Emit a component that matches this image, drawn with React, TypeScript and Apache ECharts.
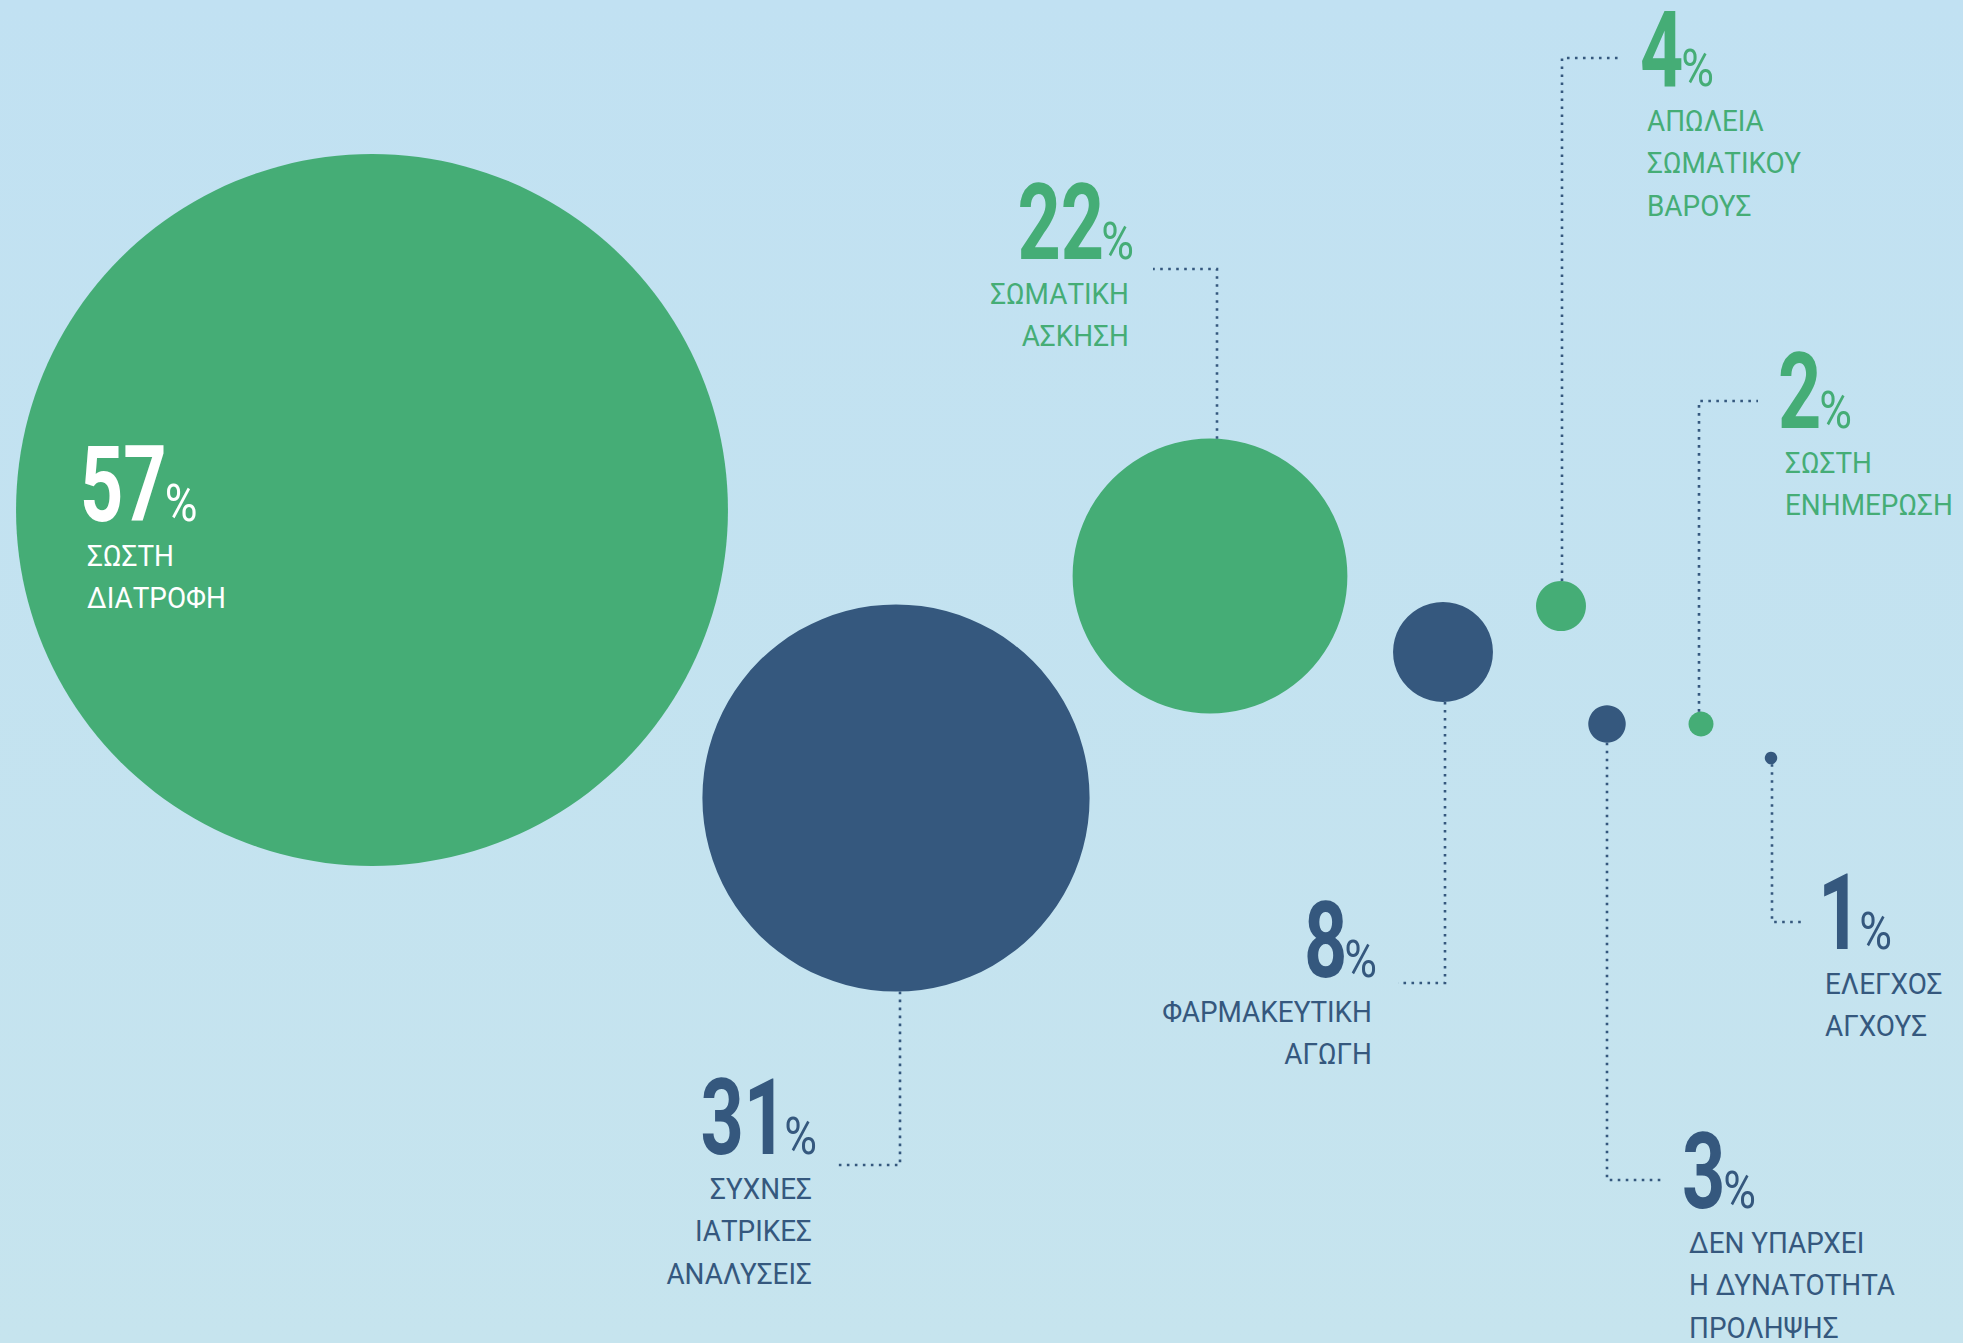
import React, { useEffect, useRef } from "react";
import * as echarts from "echarts";

// ---- data ----
const VALUES = [57, 31, 22, 8, 4, 3, 2, 1];
const GROUPS = ["green", "navy", "green", "navy", "green", "navy", "green", "navy"];
const CAPTIONS = [
  ["ΣΩΣΤΗ", "ΔΙΑΤΡΟΦΗ"],
  ["ΣΥΧΝΕΣ", "ΙΑΤΡΙΚΕΣ", "ΑΝΑΛΥΣΕΙΣ"],
  ["ΣΩΜΑΤΙΚΗ", "ΑΣΚΗΣΗ"],
  ["ΦΑΡΜΑΚΕΥΤΙΚΗ", "ΑΓΩΓΗ"],
  ["ΑΠΩΛΕΙΑ", "ΣΩΜΑΤΙΚΟΥ", "ΒΑΡΟΥΣ"],
  ["ΔΕΝ ΥΠΑΡΧΕΙ", "Η ΔΥΝΑΤΟΤΗΤΑ", "ΠΡΟΛΗΨΗΣ"],
  ["ΣΩΣΤΗ", "ΕΝΗΜΕΡΩΣΗ"],
  ["ΕΛΕΓΧΟΣ", "ΑΓΧΟΥΣ"],
];

// ---- layout (axis units = canvas pixels) ----
const CENTER_X = [372, 896, 1210, 1443, 1561, 1607, 1701, 1771];
const CENTER_Y = [510, 798, 576, 652, 606, 724, 724, 758];
const LABEL_SIDE = ["left", "right", "right", "right", "left", "left", "left", "left"];
const LABEL_X = [87, 812, 1129, 1372, 1647, 1689, 1785, 1825];
const NUMBER_BASELINE = [522, 1155, 260, 978, 87, 1209, 429, 950];
const LEADERS: (number[] | null)[] = [
  null,
  [900, 1165, 836],
  [1217, 269, 1153],
  [1445, 983, 1398],
  [1562, 58, 1621],
  [1607, 1180, 1665],
  [1699, 401, 1758],
  [1772, 922, 1805],
];

// ---- styles ----
const GREEN = "#45AD76";
const NAVY = "#35587E";
const DIAM_PER_PCT = 12.49;
const NUM_SIZE = 105;
const PCT_SIZE = 52;
const CAP_SIZE = 30;
const NUM_SX = 0.72;
const PCT_SX = 0.86;
const CAP_SX = 0.93;
const CAP_RATIO = 0.711;
const FONT = "Roboto";

const ctx = document.createElement("canvas").getContext("2d") as CanvasRenderingContext2D;
function measure(text: string, font: string) {
  ctx.font = font;
  return ctx.measureText(text).width;
}

export default function App() {
  const ref = useRef<HTMLDivElement>(null);
  useEffect(() => {
    if (!ref.current) return;
    const chart = echarts.init(ref.current, null, { renderer: "svg" });
    const data = VALUES.map((v, i) => [CENTER_X[i], CENTER_Y[i], v]);

    const renderItem = (params: any, api: any) => {
      const i = params.dataIndex;
      const c = api.coord([api.value(0), api.value(1)]);
      const d = api.size([api.value(2) * DIAM_PER_PCT, 0])[0];
      const r = d / 2;
      const color = GROUPS[i] === "green" ? GREEN : NAVY;
      const textColor = i === 0 ? "#FFFFFF" : color;
      const children: any[] = [];
      children.push({
        type: "circle",
        shape: { cx: c[0], cy: c[1], r },
        style: { fill: color },
      });
      const ld = LEADERS[i];
      if (ld) {
        const e = api.coord([ld[0], ld[1]]);
        const end = api.coord([ld[2], ld[1]]);
        const dx = e[0] - c[0];
        const dy = Math.sqrt(Math.max(r * r - dx * dx, 0));
        const startY = e[1] < c[1] ? c[1] - dy : c[1] + dy;
        children.push({
          type: "polyline",
          shape: { points: [[e[0], startY], [e[0], e[1]], [end[0], e[1]]] },
          style: { stroke: NAVY, lineWidth: 2.6, lineDash: [2.6, 5.4], fill: null },
        });
      }
      const side = LABEL_SIDE[i];
      const numText = String(VALUES[i]);
      const numFont = `bold ${NUM_SIZE}px ${FONT}`;
      const pctFont = `normal ${PCT_SIZE}px ${FONT}`;
      const numW = measure(numText, numFont) * NUM_SX;
      const pctW = measure("%", pctFont) * PCT_SX;
      const a = api.coord([LABEL_X[i], NUMBER_BASELINE[i]]);
      const baseY = a[1];
      let numX: number, pctX: number;
      if (side === "left") {
        numX = a[0] - 7;
        pctX = numX + numW - 2;
      } else {
        pctX = a[0] + 5;
        numX = pctX - pctW + 3;
      }
      children.push({
        type: "text",
        x: numX,
        y: baseY - (NUM_SIZE * CAP_RATIO) / 2,
        scaleX: NUM_SX,
        style: {
          x: 0, y: 0, text: numText, fill: textColor,
          fontSize: NUM_SIZE, fontWeight: "bold", fontFamily: FONT,
          lineHeight: 80,
          textAlign: side, verticalAlign: "middle",
        },
      });
      children.push({
        type: "text",
        x: pctX,
        y: baseY - (PCT_SIZE * CAP_RATIO) / 2,
        scaleX: PCT_SX,
        style: {
          x: 0, y: 0, text: "%", fill: textColor,
          fontSize: PCT_SIZE, fontWeight: "normal", fontFamily: FONT,
          lineHeight: 40,
          textAlign: side, verticalAlign: "middle",
        },
      });
      CAPTIONS[i].forEach((line, k) => {
        const bl = baseY + 44 + k * 42.5;
        children.push({
          type: "text",
          x: a[0],
          y: bl - (CAP_SIZE * CAP_RATIO) / 2,
          scaleX: CAP_SX,
          style: {
            x: 0, y: 0, text: line, fill: textColor,
            fontSize: CAP_SIZE, fontWeight: "normal", fontFamily: FONT,
            lineHeight: 28,
            textAlign: side, verticalAlign: "middle",
          },
        });
      });
      return { type: "group", children };
    };

    chart.setOption({
      animation: false,
      backgroundColor: new echarts.graphic.LinearGradient(0, 0, 0, 1, [
        { offset: 0, color: "#C1E1F2" },
        { offset: 1, color: "#C6E4EE" },
      ]),
      grid: { left: 0, right: 0, top: 0, bottom: 0 },
      xAxis: { type: "value", min: 0, max: 1963, show: false },
      yAxis: { type: "value", min: 0, max: 1343, inverse: true, show: false },
      series: [
        {
          type: "custom",
          coordinateSystem: "cartesian2d",
          clip: false,
          renderItem,
          data,
        },
      ],
    });
    return () => chart.dispose();
  }, []);
  return (
    <div
      ref={ref}
      style={{ position: "absolute", left: 0, top: 0, width: 1963, height: 1343 }}
    />
  );
}
